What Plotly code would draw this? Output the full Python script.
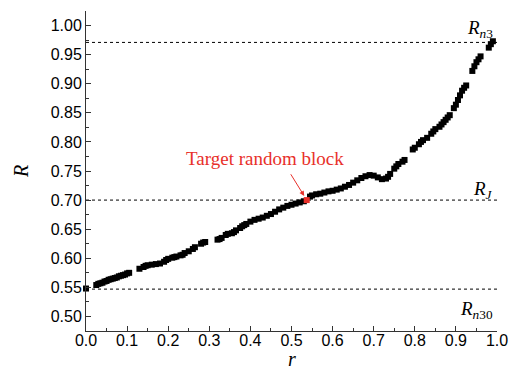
import plotly.graph_objects as go

r_vals = [0.0, 0.025, 0.03, 0.035, 0.04, 0.045, 0.05, 0.055, 0.06, 0.065, 0.07, 0.075,
          0.08, 0.085, 0.09, 0.095, 0.10, 0.105, 0.13, 0.14, 0.145, 0.15, 0.16, 0.17,
          0.18, 0.19, 0.195, 0.20, 0.21, 0.215, 0.22, 0.23, 0.235, 0.24, 0.25, 0.26,
          0.265, 0.28, 0.285, 0.29, 0.32, 0.325, 0.33, 0.34, 0.345, 0.355, 0.36, 0.365,
          0.375, 0.38, 0.385, 0.39, 0.40, 0.41, 0.42, 0.43, 0.44, 0.45, 0.46, 0.47,
          0.48, 0.49, 0.50, 0.51, 0.52, 0.53, 0.545, 0.55, 0.56, 0.57, 0.58, 0.59,
          0.60, 0.61, 0.62, 0.63, 0.64, 0.65, 0.66, 0.67, 0.68, 0.69, 0.70, 0.71,
          0.72, 0.73, 0.735, 0.74, 0.75, 0.755, 0.76, 0.77, 0.775, 0.795, 0.80, 0.81,
          0.815, 0.82, 0.83, 0.84, 0.845, 0.85, 0.86, 0.865, 0.87, 0.875, 0.88, 0.885,
          0.895, 0.90, 0.905, 0.91, 0.915, 0.92, 0.925, 0.94, 0.945, 0.95, 0.955, 0.96,
          0.98, 0.985, 0.99]
R_vals = [0.548, 0.554, 0.556, 0.557, 0.558, 0.560, 0.561, 0.563, 0.564, 0.565, 0.566, 0.567,
          0.569, 0.570, 0.571, 0.572, 0.574, 0.575, 0.582, 0.585, 0.587, 0.588, 0.589, 0.590,
          0.591, 0.594, 0.597, 0.599, 0.601, 0.602, 0.603, 0.605, 0.606, 0.609, 0.612, 0.616,
          0.619, 0.625, 0.627, 0.628, 0.632, 0.633, 0.635, 0.640, 0.642, 0.643, 0.645, 0.648,
          0.652, 0.655, 0.657, 0.659, 0.663, 0.666, 0.668, 0.670, 0.673, 0.676, 0.680, 0.684,
          0.687, 0.690, 0.692, 0.694, 0.696, 0.698, 0.706, 0.708, 0.710, 0.711, 0.713, 0.715,
          0.716, 0.718, 0.720, 0.723, 0.726, 0.730, 0.734, 0.738, 0.741, 0.743, 0.742, 0.739,
          0.736, 0.737, 0.740, 0.745, 0.754, 0.758, 0.762, 0.766, 0.769, 0.787, 0.790, 0.796,
          0.800, 0.803, 0.807, 0.814, 0.818, 0.822, 0.826, 0.830, 0.834, 0.838, 0.842, 0.846,
          0.858, 0.864, 0.872, 0.880, 0.888, 0.893, 0.897, 0.922, 0.930, 0.937, 0.942, 0.947,
          0.962, 0.968, 0.973]

target_r = [0.537]
target_R = [0.700]

ref_levels = [0.971, 0.700, 0.547]
ref_labels = ["<i>R</i><sub><i>n</i>3</sub>", "<i>R</i><sub><i>J</i></sub>",
              "<i>R</i><sub><i>n</i>30</sub>"]
ref_label_y = [0.994, 0.718, 0.511]

serif = "Liberation Serif, Times New Roman, serif"
sans = "Liberation Sans, Arial, sans-serif"

fig = go.Figure()
fig.add_trace(go.Scatter(x=r_vals, y=R_vals, mode="markers",
                         marker=dict(symbol="square", size=6, color="black",
                                     line=dict(width=0)),
                         cliponaxis=False, showlegend=False))
fig.add_trace(go.Scatter(x=target_r, y=target_R, mode="markers",
                         marker=dict(symbol="square", size=6, color="#e8302a",
                                     line=dict(width=0)),
                         cliponaxis=False, showlegend=False))

for lvl in ref_levels:
    fig.add_shape(type="line", xref="x", yref="y", x0=0, x1=1, y0=lvl, y1=lvl,
                  line=dict(color="black", width=1, dash="3px,3px"), layer="below")

for lab, ly in zip(ref_labels, ref_label_y):
    fig.add_annotation(x=0.995, y=ly, xref="x", yref="y", text=lab, showarrow=False,
                       xanchor="right", yanchor="middle",
                       font=dict(family=serif, size=19, color="black"))

fig.add_annotation(x=0.4355, y=0.7715, xref="x", yref="y", text="Target random block",
                   showarrow=False, xanchor="center", yanchor="middle",
                   font=dict(family=serif, size=19, color="#e8302a"))
fig.add_annotation(x=0.531, y=0.707, ax=0.496, ay=0.747, xref="x", yref="y",
                   axref="x", ayref="y", text="", showarrow=True,
                   arrowhead=2, arrowsize=1, arrowwidth=1, arrowcolor="#e8302a")

# x-axis title placed below tick labels
fig.add_annotation(x=0.5, y=-0.087, xref="paper", yref="paper", text="<i>r</i>",
                   showarrow=False, xanchor="center", yanchor="middle",
                   font=dict(family=serif, size=20, color="black"))

fig.update_xaxes(range=[0, 1], dtick=0.1, tick0=0, tickformat=".1f", automargin=False,
                 showgrid=False, zeroline=False, showline=True, linecolor="#333",
                 linewidth=1, ticks="inside", ticklen=5, tickcolor="#333",
                 ticklabelstandoff=-5,
                 tickfont=dict(family=sans, size=16, color="black"),
                 minor=dict(ticks="inside", ticklen=3, dtick=0.05, tickcolor="#333"))
fig.update_yaxes(range=[0.475, 1.025], dtick=0.05, tick0=0.5, tickformat=".2f", automargin=False,
                 showgrid=False, zeroline=False, showline=True, linecolor="#333",
                 linewidth=1, ticks="inside", ticklen=5, tickcolor="#333",
                 tickfont=dict(family=sans, size=16, color="black"),
                 minor=dict(ticks="inside", ticklen=3, dtick=0.025, tickcolor="#333"),
                 title=dict(text="<i>R</i>", font=dict(family=serif, size=20, color="black"),
                            standoff=16))

fig.update_layout(width=513, height=372, margin=dict(l=86, r=16, t=11, b=41),
                  plot_bgcolor="white", paper_bgcolor="white")

fig.write_html("out.html")
